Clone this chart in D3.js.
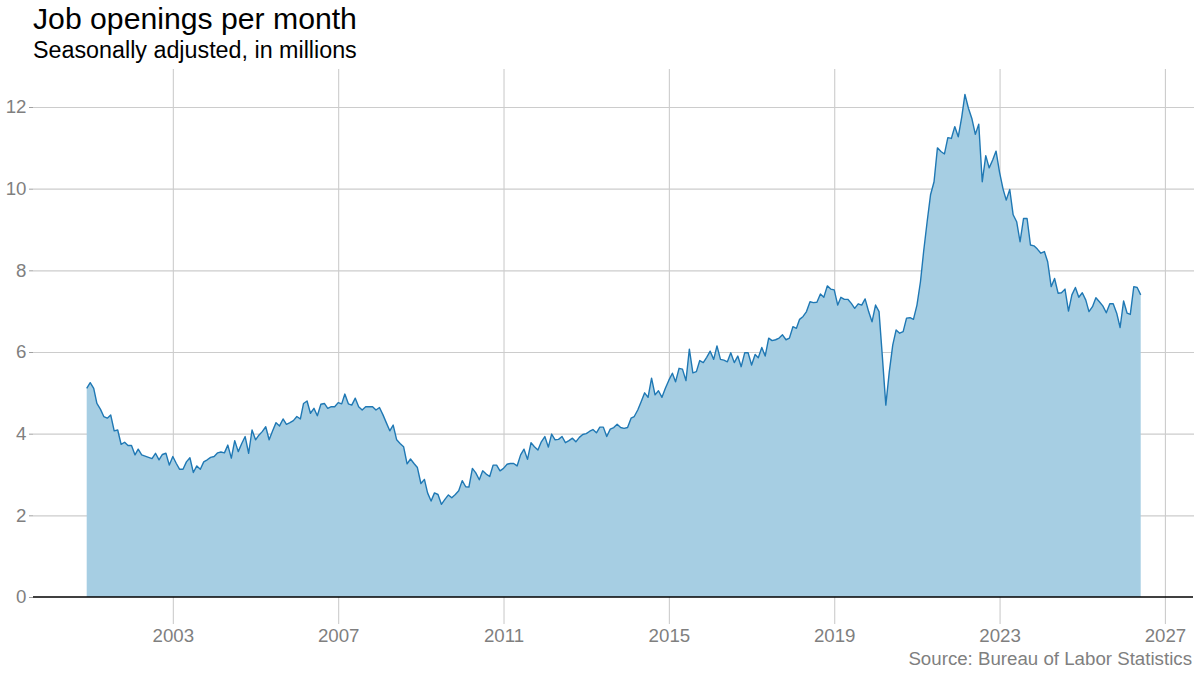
<!DOCTYPE html>
<html>
<head>
<meta charset="utf-8">
<script src="https://cdn.jsdelivr.net/npm/d3@7"></script>
<style>
  html, body { margin: 0; padding: 0; background: #ffffff; }
  svg { display: block; font-family: "Liberation Sans", Arial, Helvetica, sans-serif; }
</style>
</head>
<body>
<svg id="chart" width="1200" height="676"></svg>
<script>
// ---- Data (job openings, millions, seasonally adjusted), monthly from Dec 2000 ----
const startYear = 2000;
const startMonth = 12; // December
const openings = [
  5.11,
  5.25, 5.11, 4.74, 4.60, 4.42, 4.38, 4.46, 4.07, 4.09, 3.74, 3.79, 3.71,
  3.71, 3.48, 3.62, 3.48, 3.45, 3.42, 3.39, 3.52, 3.36, 3.49, 3.52, 3.23,
  3.44, 3.27, 3.13, 3.13, 3.31, 3.41, 3.05, 3.21, 3.13, 3.31, 3.36, 3.42,
  3.44, 3.53, 3.55, 3.53, 3.72, 3.40, 3.83, 3.56, 3.76, 3.93, 3.52, 4.09,
  3.85, 3.97, 4.05, 4.17, 3.85, 4.07, 4.27, 4.19, 4.36, 4.23, 4.27, 4.32,
  4.42, 4.36, 4.74, 4.80, 4.50, 4.62, 4.44, 4.72, 4.74, 4.62, 4.66, 4.66,
  4.76, 4.73, 4.97, 4.73, 4.70, 4.87, 4.66, 4.58, 4.66, 4.66, 4.66, 4.58,
  4.64, 4.46, 4.27, 4.07, 4.21, 3.85, 3.76, 3.68, 3.26, 3.38, 3.27, 3.17,
  2.78, 2.88, 2.55, 2.35, 2.55, 2.51, 2.27, 2.39, 2.50, 2.43, 2.51, 2.60,
  2.85, 2.70, 2.69, 3.15, 3.04, 2.87, 3.09, 3.01, 2.95, 3.23, 3.23, 3.09,
  3.15, 3.25, 3.27, 3.27, 3.21, 3.48, 3.62, 3.37, 3.78, 3.68, 3.60, 3.80,
  3.93, 3.67, 3.99, 3.85, 3.86, 3.93, 3.78, 3.83, 3.89, 3.80, 3.91, 3.98,
  4.00, 4.06, 4.10, 4.02, 4.16, 4.16, 3.93, 4.11, 4.15, 4.23, 4.15, 4.13,
  4.15, 4.38, 4.42, 4.58, 4.78, 5.00, 4.89, 5.36, 4.95, 5.05, 4.89, 5.11,
  5.31, 5.48, 5.27, 5.60, 5.58, 5.30, 6.07, 5.49, 5.52, 5.79, 5.74, 5.87,
  6.02, 5.82, 6.15, 5.82, 5.80, 5.76, 5.98, 5.74, 5.90, 5.64, 5.98, 5.98,
  5.68, 5.94, 5.86, 6.11, 5.90, 6.34, 6.28, 6.30, 6.34, 6.42, 6.30, 6.34,
  6.62, 6.58, 6.80, 6.87, 6.99, 7.23, 7.21, 7.22, 7.42, 7.34, 7.62, 7.54,
  7.52, 7.15, 7.34, 7.29, 7.29, 7.19, 7.07, 7.18, 7.15, 7.30, 6.99, 6.74,
  7.15, 6.99, 5.90, 4.70, 5.50, 6.17, 6.54, 6.46, 6.50, 6.83, 6.84, 6.80,
  7.15, 7.72, 8.46, 9.19, 9.85, 10.17, 11.00, 10.91, 10.85, 11.25, 11.23, 11.52,
  11.27, 11.76, 12.31, 11.97, 11.72, 11.33, 11.58, 10.17, 10.81, 10.51, 10.70, 10.92,
  10.40, 9.99, 9.72, 9.98, 9.36, 9.19, 8.70, 9.27, 9.27, 8.62, 8.60, 8.52,
  8.42, 8.46, 8.21, 7.60, 7.80, 7.44, 7.45, 7.54, 7.00, 7.40, 7.58, 7.34,
  7.45, 7.27, 6.99, 7.11, 7.33, 7.23, 7.13, 6.96, 7.18, 7.18, 6.95, 6.60,
  7.25, 6.95, 6.92, 7.60, 7.58, 7.40
];
const yTicks = [0, 2, 4, 6, 8, 10, 12];
const xTickYears = [2003, 2007, 2011, 2015, 2019, 2023, 2027];
const titleText = "Job openings per month";
const subtitleText = "Seasonally adjusted, in millions";
const sourceText = "Source: Bureau of Labor Statistics";

// ---- Build series ----
const series = openings.map((v, i) => ({
  date: new Date(startYear, startMonth - 1 + i, 1),
  value: v
}));

// ---- Layout ----
const panel = { left: 33, right: 1194, top: 69, bottom: 624 };
const svg = d3.select("#chart");

const x = d3.scaleTime()
  .domain([series[0].date, series[series.length - 1].date])
  .range([86.7, 1140.7]);

const y = d3.scaleLinear()
  .domain([0, 12])
  .range([597, 107]);

const gridColor = "#cccccc";
const textGray = "#7f7f7f";

// Horizontal gridlines
const yGrid = svg.append("g")
  .attr("transform", `translate(${panel.left},0)`)
  .call(d3.axisLeft(y).tickValues(yTicks.filter(d => d !== 0))
    .tickSize(-(panel.right - panel.left)).tickFormat(""));
yGrid.select(".domain").remove();
yGrid.selectAll("line").attr("stroke", gridColor).attr("stroke-width", 1.1);

// Vertical gridlines + x labels
const xAxis = svg.append("g")
  .attr("transform", `translate(0,${panel.bottom})`)
  .call(d3.axisBottom(x)
    .tickValues(xTickYears.map(yr => new Date(yr, 0, 1)))
    .tickSize(-(panel.bottom - panel.top))
    .tickFormat(d3.timeFormat("%Y")));
xAxis.select(".domain").remove();
xAxis.selectAll("line").attr("stroke", gridColor).attr("stroke-width", 1.1);
xAxis.selectAll("text")
  .attr("y", 17.5).attr("dy", 0)
  .attr("fill", textGray)
  .style("font-size", "18.7px")
  .style("font-family", "'Liberation Sans', Arial, sans-serif");

// Y axis labels & ticks
const yAxis = svg.append("g")
  .attr("transform", `translate(${panel.left},0)`)
  .call(d3.axisLeft(y).tickValues(yTicks).tickSize(4).tickPadding(2.5));
yAxis.select(".domain").remove();
yAxis.selectAll("line").attr("stroke", "#a0a0a0");
yAxis.selectAll("text")
  .attr("fill", textGray)
  .style("font-size", "18.7px")
  .style("font-family", "'Liberation Sans', Arial, sans-serif");

// Area + line
const area = d3.area()
  .x(d => x(d.date))
  .y0(y(0))
  .y1(d => y(d.value));
const line = d3.line()
  .x(d => x(d.date))
  .y(d => y(d.value));

svg.append("path")
  .datum(series)
  .attr("d", area)
  .attr("fill", "#a6cee3");

svg.append("path")
  .datum(series)
  .attr("d", line)
  .attr("fill", "none")
  .attr("stroke", "#1f78b4")
  .attr("stroke-width", 1.4)
  .attr("stroke-linejoin", "round");

// Zero baseline
svg.append("line")
  .attr("x1", panel.left).attr("x2", 1193)
  .attr("y1", y(0)).attr("y2", y(0))
  .attr("stroke", "#000000")
  .attr("stroke-width", 1.3);

// Titles
svg.append("text")
  .attr("x", 33).attr("y", 28.5)
  .attr("fill", "#000")
  .style("font-size", "30.2px")
  .text(titleText);

svg.append("text")
  .attr("x", 33).attr("y", 57.5)
  .attr("fill", "#000")
  .style("font-size", "23.3px")
  .text(subtitleText);

svg.append("text")
  .attr("x", 1192).attr("y", 664.5)
  .attr("text-anchor", "end")
  .attr("fill", textGray)
  .style("font-size", "18.7px")
  .text(sourceText);
</script>
</body>
</html>
